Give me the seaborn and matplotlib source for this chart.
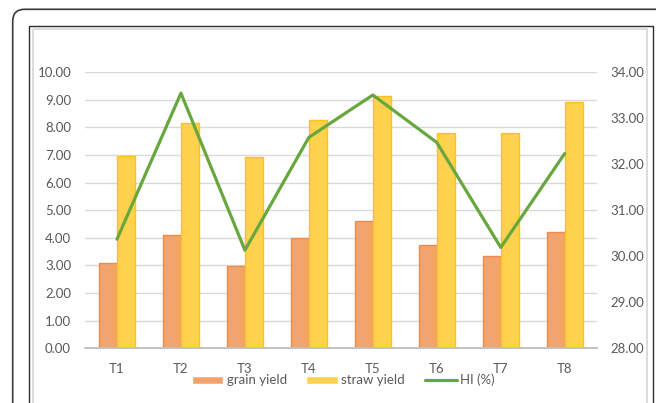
import numpy as np
import pandas as pd
import matplotlib.pyplot as plt
import seaborn as sns
from matplotlib.patches import FancyBboxPatch, Rectangle
from matplotlib.ticker import FormatStrFormatter

# ─── data ────────────────────────────────────────────────────────────────────
treatments  = ["T1", "T2", "T3", "T4", "T5", "T6", "T7", "T8"]
grain_yield = [3.07, 4.09, 2.99, 4.00, 4.59, 3.75, 3.33, 4.22]
straw_yield = [6.97, 8.15, 6.94, 8.26, 9.14, 7.79, 7.79, 8.93]
hi_pct      = [30.37, 33.54, 30.13, 32.58, 33.50, 32.47, 30.19, 32.23]
left_ticks  = [0, 1, 2, 3, 4, 5, 6, 7, 8, 9, 10]
right_ticks = [28, 29, 30, 31, 32, 33, 34]

df = pd.DataFrame({
    "Treatment": treatments * 2,
    "Yield": grain_yield + straw_yield,
    "Series": ["grain yield"] * len(treatments) + ["straw yield"] * len(treatments),
})

ORANGE, ORANGE_EDGE = "#F3A46E", "#EE8A4A"
GOLD, GOLD_EDGE     = "#FFD24E", "#FFC21A"
GREEN = "#67A73E"
TXT   = "#595959"
GRID  = "#D9D9D9"

sns.set_theme(style="white")
plt.rcParams["font.family"] = ["Lato", "DejaVu Sans"]

fig = plt.figure(figsize=(6.56, 4.03), dpi=100)

# ─── frame decoration (pixel coords) ─────────────────────────────────────────
bg = fig.add_axes([0, 0, 1, 1], zorder=-5)
bg.set_xlim(0, 656)
bg.set_ylim(403, 0)
bg.axis("off")
bg.add_patch(FancyBboxPatch((12.7, 9.3), 700, 450,
                            boxstyle="round,pad=0,rounding_size=12",
                            fill=False, ec="#3A3A3A", lw=1.2))
bg.add_patch(Rectangle((29, 26), 623.7, 450, fill=False, ec="#2E2E2E", lw=1.0))
bg.add_patch(Rectangle((33, 29), 613.7, 450, fill=False, ec="#D6D6D6", lw=1.2))

# ─── bars ────────────────────────────────────────────────────────────────────
ax = fig.add_axes([85 / 656, 1 - 348.3 / 403, (596.7 - 85) / 656, (348.3 - 72) / 403])
ax.patch.set_alpha(0)
sns.barplot(data=df, x="Treatment", y="Yield", hue="Series",
            palette={"grain yield": ORANGE, "straw yield": GOLD},
            width=0.56, saturation=1, linewidth=1, ax=ax)
for cont, ec in zip(ax.containers, [ORANGE_EDGE, GOLD_EDGE]):
    for bar in cont:
        bar.set_edgecolor(ec)

ax.set_ylim(0, 10)
ax.set_yticks(left_ticks)
ax.yaxis.set_major_formatter(FormatStrFormatter("%.2f"))
ax.yaxis.grid(True, color=GRID, lw=1)
ax.set_axisbelow(True)
ax.set_xlabel("")
ax.set_ylabel("")
for s in ["top", "left", "right"]:
    ax.spines[s].set_visible(False)
ax.spines["bottom"].set_color("#BFBFBF")
ax.spines["bottom"].set_linewidth(1.3)
ax.tick_params(axis="y", length=0, pad=10, labelsize=9.5, labelcolor=TXT)
ax.tick_params(axis="x", length=0, pad=10.5, labelsize=9.5, labelcolor=TXT)

# ─── HI line on secondary axis ───────────────────────────────────────────────
ax2 = ax.twinx()
sns.lineplot(x=np.arange(len(treatments)), y=hi_pct, color=GREEN, lw=2.3,
             label="HI (%)", ax=ax2)
ax2.set_ylim(28, 34)
ax2.set_yticks(right_ticks)
ax2.yaxis.set_major_formatter(FormatStrFormatter("%.2f"))
ax2.tick_params(axis="y", length=0, pad=10, labelsize=9.5, labelcolor=TXT)
ax2.grid(False)
for s in ax2.spines.values():
    s.set_visible(False)
ax.set_xlim(-0.5, len(treatments) - 0.5)

# ─── legend ──────────────────────────────────────────────────────────────────
h1, l1 = ax.get_legend_handles_labels()
h2, l2 = ax2.get_legend_handles_labels()
ax.get_legend().remove()
ax2.get_legend().remove()
fig.legend(h1 + h2, l1 + l2, loc="center", bbox_to_anchor=(343 / 656, 1 - 380 / 403),
           ncol=3, frameon=False, fontsize=9.5, labelcolor=TXT,
           handlelength=2.4, handleheight=0.55, handletextpad=0.25,
           columnspacing=1.5)

fig.savefig("out.png", dpi=100)
